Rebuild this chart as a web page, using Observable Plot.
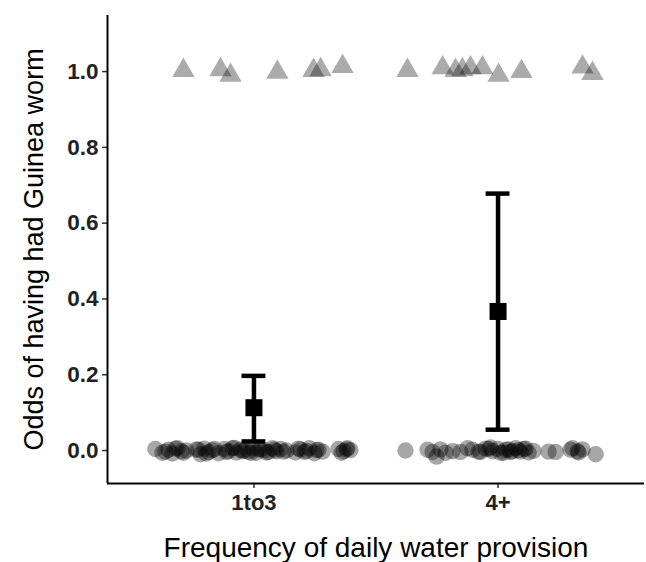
<!DOCTYPE html>
<html><head><meta charset="utf-8">
<script src="https://cdn.jsdelivr.net/npm/d3@7"></script>
<script src="https://cdn.jsdelivr.net/npm/@observablehq/plot@0.6"></script>
<style>
body{margin:0;background:#fff;}
#chart svg{font-family:"Liberation Sans",Arial,sans-serif;}
</style>
</head><body><div id="chart"></div>
<script>
// categories (positions 1 and 2 on the x axis)
const categories = ["1to3", "4+"];
const categoryPos = [1, 2];

// y ticks
const yTicks = [0, 0.2, 0.4, 0.6, 0.8, 1.0];

// jittered non-cases (outcome 0) — x in category units, y jittered around 0
const noX1 = [0.596,0.625,0.650,0.666,0.686,0.703,0.723,0.764,0.781,0.797,0.814,0.830,0.855,0.879,0.895,0.912,0.928,0.945,0.961,0.977,0.994,1.010,1.027,1.043,1.059,1.076,1.092,1.109,1.133,1.170,1.191,1.215,1.227,1.248,1.264,1.281,1.346,1.367,1.383,1.395,
  0.637,0.678,0.711,0.773,0.805,0.838,0.887,0.920,0.953,0.986,1.018,1.051,1.084,1.121,1.182,1.207,1.256,1.359,1.379];
const noY1 = [0.004,-0.006,0.002,-0.008,0.006,-0.002,0.000,0.003,-0.010,0.005,-0.004,0.001,-0.007,0.004,-0.002,0.006,-0.005,0.002,0.000,-0.003,0.005,-0.006,0.003,0.001,-0.004,0.006,-0.002,0.004,0.000,-0.005,0.003,-0.001,0.006,-0.007,0.002,-0.003,0.004,-0.002,0.006,0.001,
  -0.003,0.005,-0.006,0.002,-0.008,0.004,-0.004,0.007,-0.002,-0.006,0.003,-0.005,0.002,-0.003,0.005,-0.004,0.001,-0.006,0.003];
const noX2 = [1.621,1.711,1.732,1.748,1.764,1.785,1.814,1.846,1.875,1.895,1.920,1.949,1.969,1.977,1.998,2.010,2.031,2.051,2.072,2.084,2.092,2.105,2.125,2.145,2.236,2.305,2.326,2.346,2.400,
  1.928,1.961,2.023,2.043,2.059,2.113,2.207,2.297,2.330];
const noY2 = [0.000,0.002,-0.004,-0.016,0.003,-0.006,-0.002,-0.004,0.006,0.002,-0.003,0.005,0.008,-0.002,0.004,-0.006,0.002,-0.004,0.006,0.001,-0.003,0.004,-0.005,-0.001,-0.004,0.006,-0.002,0.003,-0.010,
  -0.004,0.004,-0.006,0.003,-0.002,0.005,-0.003,0.002,-0.005];

// jittered cases (outcome 1)
const yesX1 = [0.711,0.863,0.904,1.096,1.244,1.273,1.363];
const yesY1 = [1.003,1.005,0.990,0.998,1.003,1.005,1.013];
const yesX2 = [1.629,1.773,1.826,1.854,1.887,1.936,2.002,2.096,2.346,2.387];
const yesY2 = [1.003,1.010,1.003,1.005,1.010,1.010,0.990,1.000,1.012,0.995];

// estimated odds and 95% CI per category
const oddsMean = [0.113, 0.367];
const oddsLow = [0.024, 0.055];
const oddsHigh = [0.197, 0.678];

const xDomain = [0.4, 2.6];
const yDomain = [-0.087, 1.148];

const points0 = [...noX1.map((x,i)=>({x, y: noY1[i]})), ...noX2.map((x,i)=>({x, y: noY2[i]}))];
const points1 = [...yesX1.map((x,i)=>({x, y: yesY1[i]})), ...yesX2.map((x,i)=>({x, y: yesY2[i]}))];
const summary = categories.map((c,i)=>({cat:c, x: categoryPos[i], mean: oddsMean[i], lo: oddsLow[i], hi: oddsHigh[i]}));
const capHalf = 0.049;

const chart = Plot.plot({
  width: 646,
  height: 562,
  marginLeft: 107,
  marginRight: 2,
  marginTop: 15,
  marginBottom: 79,
  style: {background: "#fff", fontFamily: "'Liberation Sans', Arial, sans-serif"},
  x: {domain: xDomain, axis: null},
  y: {domain: yDomain, axis: null},
  marks: [
    Plot.axisY({ticks: yTicks, tickFormat: d3.format(".1f"), tickSize: 5, tickPadding: 4, label: null, fontSize: 22.5, fontWeight: "bold", fill: "#222", stroke: "#333", strokeWidth: 1.5}),
    Plot.axisX({ticks: categoryPos, tickFormat: (d)=>categories[categoryPos.indexOf(d)], tickSize: 5, tickPadding: 6, label: null, fontSize: 22, fontWeight: "bold", fill: "#222", stroke: "#333", strokeWidth: 1.5}),
    Plot.ruleX([xDomain[0]], {stroke: "#000", strokeWidth: 2}),
    Plot.ruleY([yDomain[0]], {stroke: "#000", strokeWidth: 2}),
    Plot.dot(points0, {x: "x", y: "y", r: 8.2, fill: "#000", fillOpacity: 0.35, stroke: "none"}),
    Plot.dot(points1, {x: "x", y: "y", r: 8.3, symbol: "triangle", fill: "#000", fillOpacity: 0.33, stroke: "none"}),
    Plot.ruleX(summary, {x: "x", y1: "lo", y2: "hi", stroke: "#000", strokeWidth: 4.5}),
    Plot.ruleY(summary, {y: "hi", x1: d => d.x - capHalf, x2: d => d.x + capHalf, stroke: "#000", strokeWidth: 4.5}),
    Plot.ruleY(summary, {y: "lo", x1: d => d.x - capHalf, x2: d => d.x + capHalf, stroke: "#000", strokeWidth: 4.5}),
    Plot.dot(summary, {x: "x", y: "mean", symbol: "square", r: 9.6, fill: "#000", stroke: "none"}),
    Plot.text(["Odds of having had Guinea worm"], {frameAnchor: "left", textAnchor: "middle", rotate: -90, dx: -73, fontSize: 27, fill: "#000", lineAnchor: "middle"}),
    Plot.text(["Frequency of daily water provision"], {frameAnchor: "bottom", dy: 65, fontSize: 28, fill: "#000", lineAnchor: "middle"})
  ]
});
document.getElementById("chart").appendChild(chart);
</script>
</body></html>
